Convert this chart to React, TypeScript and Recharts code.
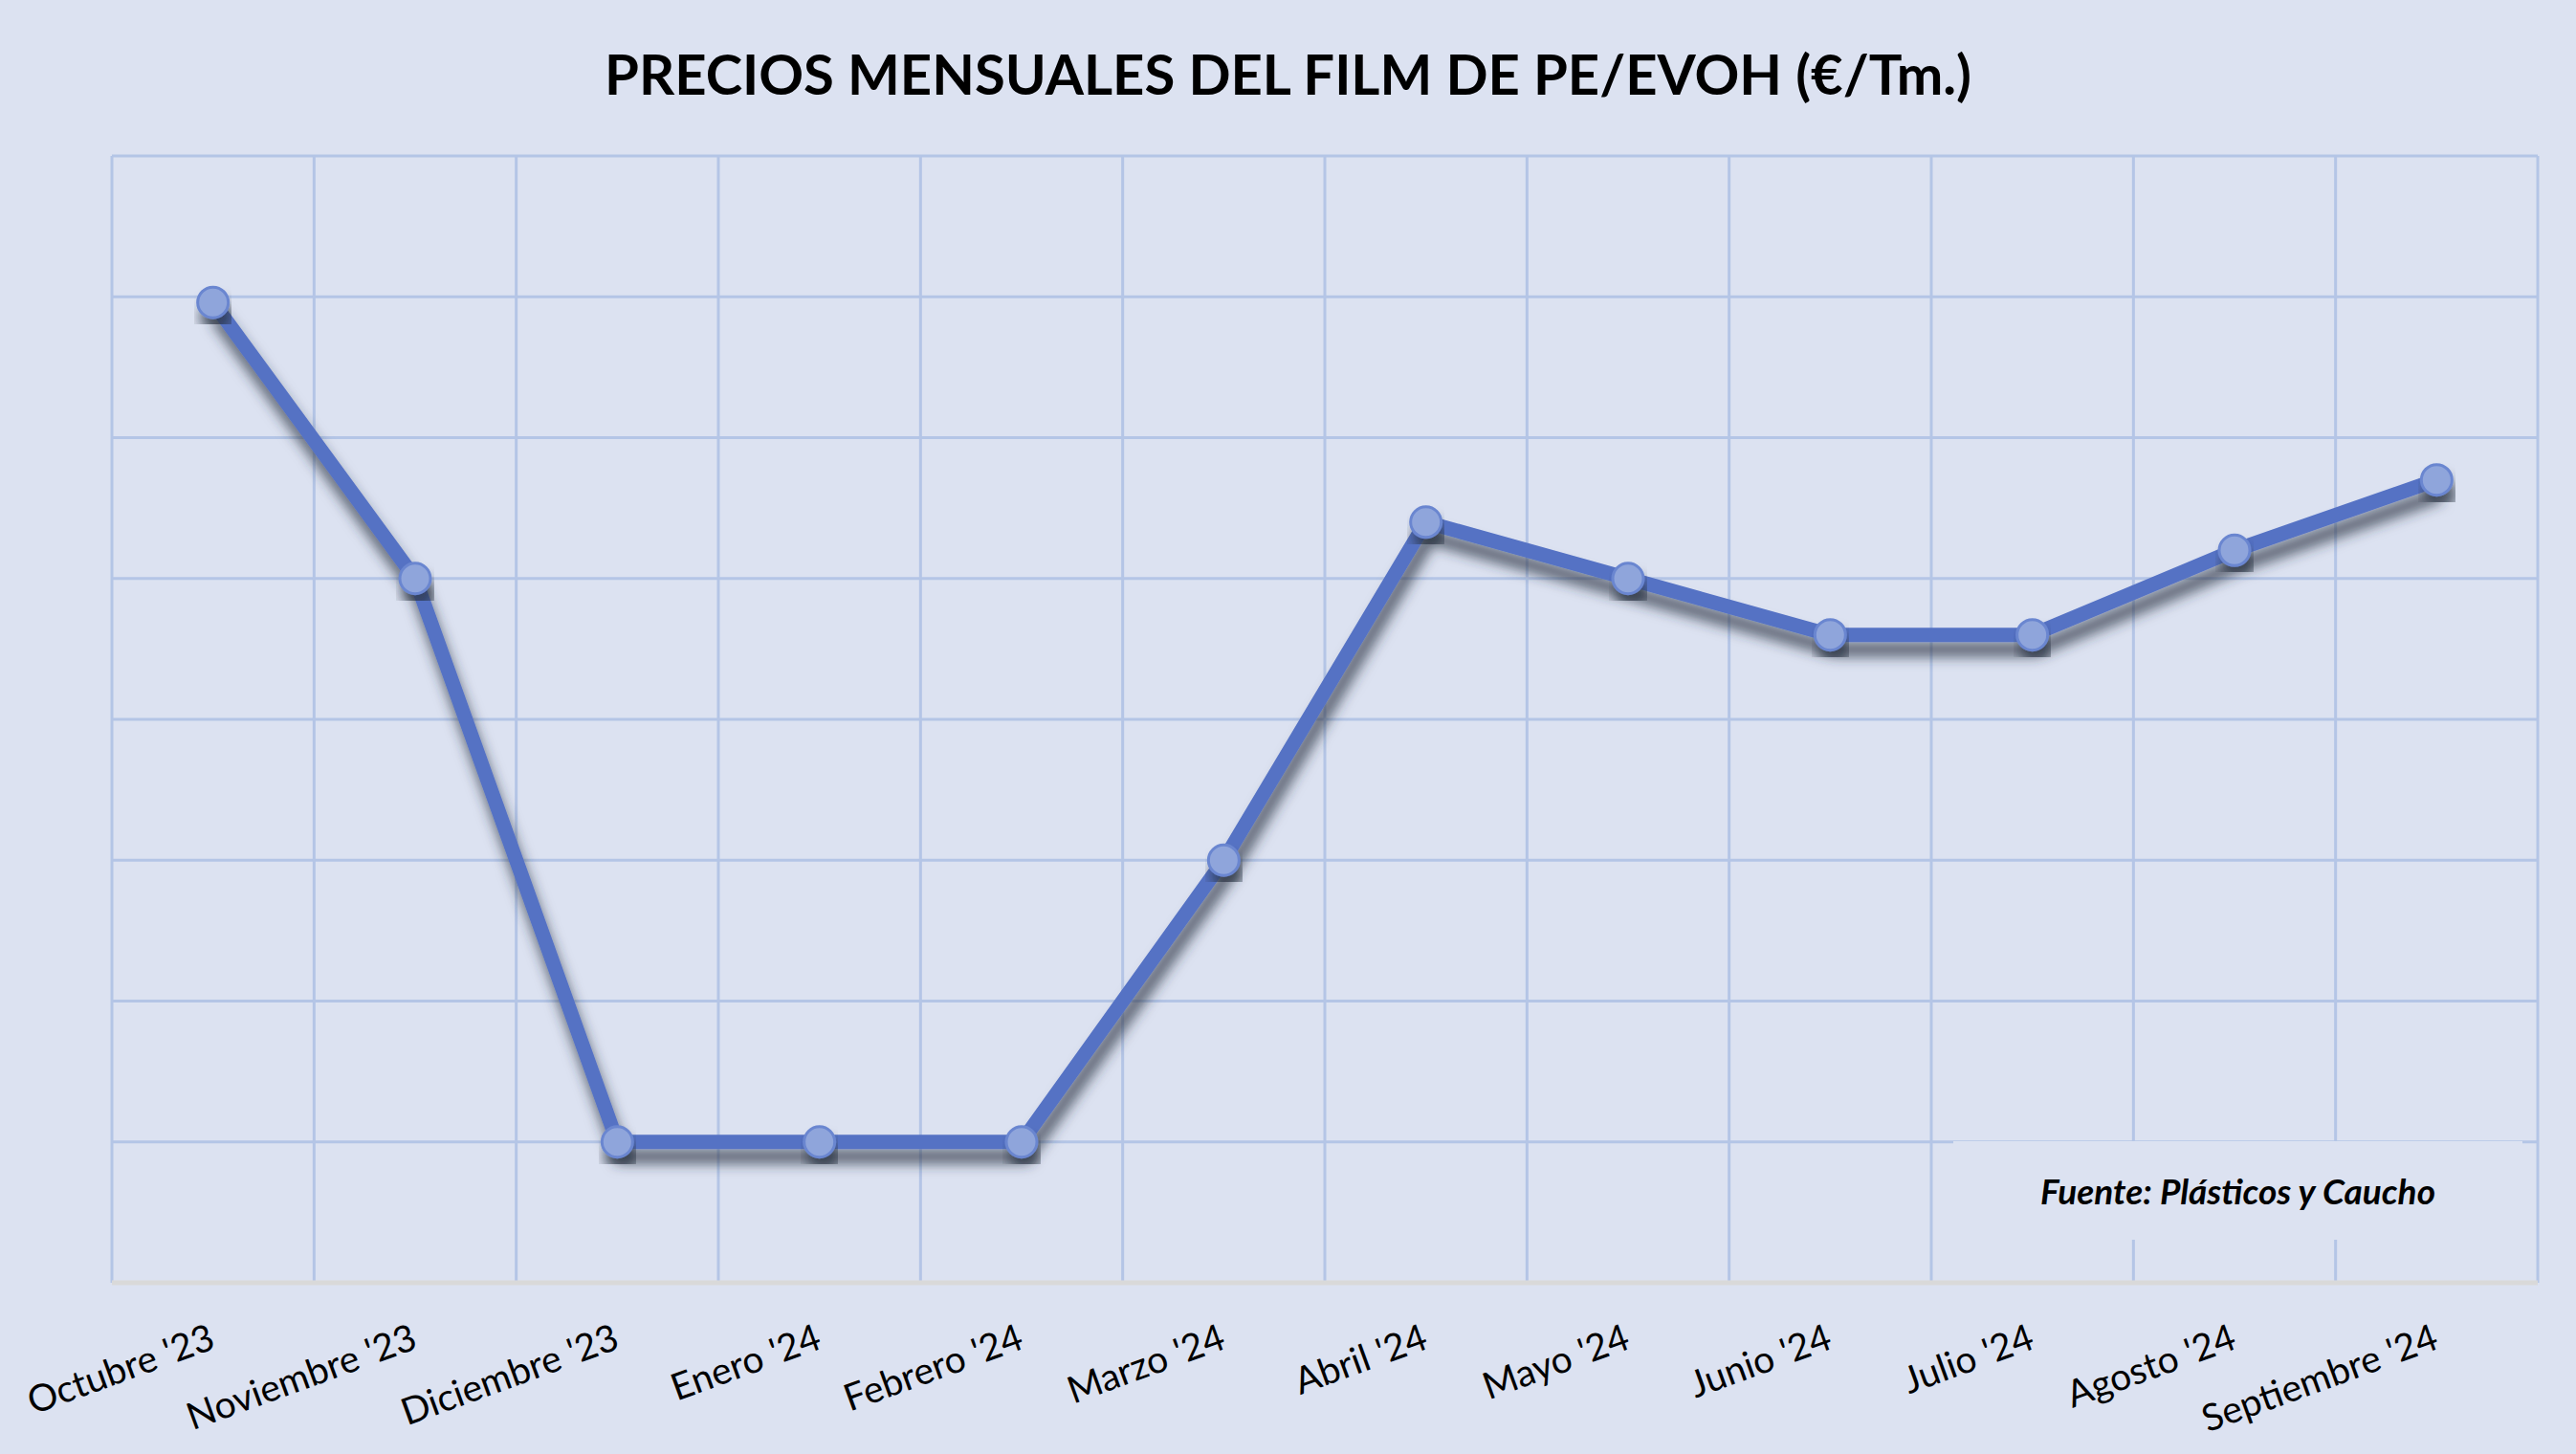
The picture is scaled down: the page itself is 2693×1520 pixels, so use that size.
import React from "react";
import {
  LineChart,
  Line,
  XAxis,
  YAxis,
  CartesianGrid,
} from "recharts";

// Months shown on the category axis
const months = [
  "Octubre '23",
  "Noviembre '23",
  "Diciembre '23",
  "Enero '24",
  "Febrero '24",
  "Marzo '24",
  "Abril '24",
  "Mayo '24",
  "Junio '24",
  "Julio '24",
  "Agosto '24",
  "Septiembre '24",
];

// Monthly price (€/Tm.), axis labels are hidden in the source
const prices = [3148, 3050, 2850, 2850, 2850, 2950, 3070, 3050, 3030, 3030, 3060, 3085];

const yTicks = [2800, 2850, 2900, 2950, 3000, 3050, 3100, 3150, 3200];
// category boundaries, used only for the vertical grid lines
const bandEdges = [0, 1, 2, 3, 4, 5, 6, 7, 8, 9, 10, 11, 12];

const chartData = months.map((month, i) => ({ month, price: prices[i] }));

const BG = "#DCE2F1";
const GRID = "#B4C5E6";
const LINE = "#5572C4";

const W = 2693;
const H = 1520;
// half of one category band, so the points sit in the middle of each band
const HALF_BAND = (W - 117 - 40) / 12 / 2;

function MonthTick(props: any) {
  const { x, y, payload } = props;
  return (
    <g transform={`translate(${x + 4},${y + 68}) rotate(-20)`}>
      <text
        x={0}
        y={0}
        textAnchor="end"
        fill="#000"
        fontSize={39}
        fontFamily="Lato, 'Open Sans', sans-serif"
      >
        {payload.value}
      </text>
    </g>
  );
}

export default function App() {
  return (
    <div
      style={{
        position: "absolute",
        left: 0,
        top: 0,
        width: W,
        height: H,
        background: BG,
        overflow: "hidden",
      }}
    >
      <div
        style={{
          position: "absolute",
          left: 0,
          top: 48,
          width: W,
          textAlign: "center",
          fontFamily: "Lato, sans-serif",
          fontWeight: 700,
          fontSize: 58,
          lineHeight: "58px",
          color: "#000",
        }}
      >
        PRECIOS MENSUALES DEL FILM DE PE/EVOH (€/Tm.)
      </div>
      <LineChart
        width={W}
        height={H}
        data={chartData}
        margin={{ top: 163, right: 40, left: 117, bottom: 59 }}
      >
        <defs>
          <filter id="lineShadow" x="-10%" y="-10%" width="120%" height="130%">
            <feDropShadow dx="4" dy="15" stdDeviation="7" floodColor="#28303f" floodOpacity="0.75" />
          </filter>
        </defs>
        <CartesianGrid
          stroke={GRID}
          strokeWidth={3}
          fill={BG}
          verticalCoordinatesGenerator={({ offset }: any) =>
            bandEdges.map((i) => offset.left + (i * offset.width) / months.length)
          }
        />
        <XAxis
          dataKey="month"
          height={120}
          interval={0}
          padding={{ left: HALF_BAND, right: HALF_BAND }}
          tickLine={false}
          tickSize={0}
          tickMargin={0}
          axisLine={{ stroke: "#D9D9D9", strokeWidth: 5 }}
          tick={<MonthTick />}
        />
        <YAxis domain={[2800, 3200]} ticks={yTicks} hide />
        <Line
          type="linear"
          dataKey="price"
          stroke={LINE}
          strokeWidth={15}
          filter="url(#lineShadow)"
          dot={{ r: 16, fill: "#8FA5DB", stroke: "#6A86D0", strokeWidth: 3 }}
          isAnimationActive={false}
        />
      </LineChart>
      <div
        style={{
          position: "absolute",
          left: 2042,
          top: 1193,
          width: 595,
          height: 103,
          background: BG,
          display: "flex",
          alignItems: "center",
          justifyContent: "center",
          fontFamily: "Lato, sans-serif",
          fontWeight: 700,
          fontStyle: "italic",
          fontSize: 37,
          color: "#000",
        }}
      >
        Fuente: Plásticos y Caucho
      </div>
    </div>
  );
}
